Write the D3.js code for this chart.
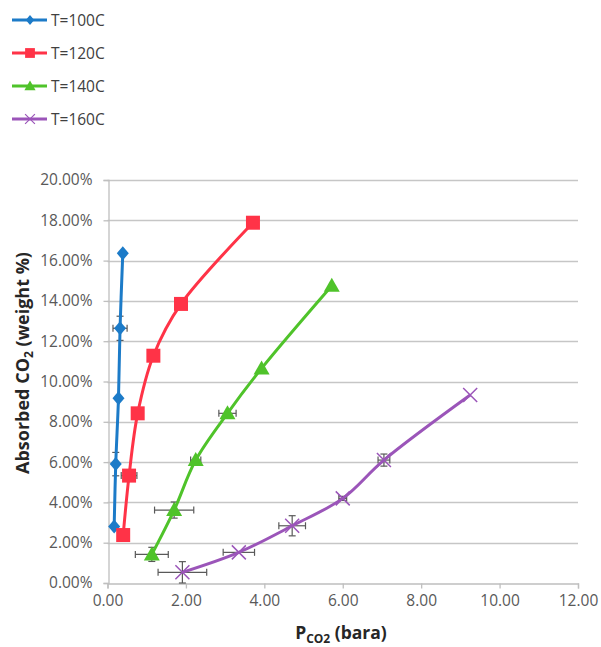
<!DOCTYPE html>
<html><head><meta charset="utf-8">
<script src="https://cdn.jsdelivr.net/npm/d3@7"></script>
<style>body{margin:0;background:#fff;} text{font-family:"Open Sans","Liberation Sans",sans-serif;}</style>
</head><body>
<svg id="c" width="601" height="647"></svg>
<script>
const seriesNames = ["T=100C","T=120C","T=140C","T=160C"];
const seriesColors = ["#1c7bc8","#ff3347","#4fc32a","#9b55b9"];
const seriesMarkers = ["diamond","square","triangle","x"];
// pressure (bara), absorbed CO2 (fraction), x error, y error
const p100 = [0.17,0.21,0.28,0.32,0.39];
const w100 = [0.028,0.059,0.0917,0.1264,0.1636];
const ex100 = [0,0.05,0,0.18,0];
const ey100 = [0,0.0058,0,0.006,0];
const p120 = [0.40,0.55,0.77,1.17,1.875,3.71];
const w120 = [0.0238,0.0533,0.0842,0.1128,0.1385,0.1788];
const ex120 = [0,0.2,0,0,0,0];
const ey120 = [0,0,0,0,0,0];
const p140 = [1.13,1.70,2.25,3.06,3.93,5.72];
const w140 = [0.0142,0.0362,0.061,0.0842,0.1065,0.1475];
const ex140 = [0.42,0.5,0.13,0.22,0,0];
const ey140 = [0.0035,0.004,0,0,0,0];
const p160 = [1.91,3.35,4.71,6.0,7.05,9.25];
const w160 = [0.0053,0.0152,0.0284,0.042,0.061,0.0933];
const ex160 = [0.62,0.4,0.34,0.1,0.15,0];
const ey160 = [0.0053,0,0.005,0.001,0.003,0];
const xTicks = [0,2,4,6,8,10,12];
const yTicks = [0,0.02,0.04,0.06,0.08,0.10,0.12,0.14,0.16,0.18,0.20];

const series = [
 {p:p100,w:w100,ex:ex100,ey:ey100},
 {p:p120,w:w120,ex:ex120,ey:ey120},
 {p:p140,w:w140,ex:ex140,ey:ey140},
 {p:p160,w:w160,ex:ex160,ey:ey160}
];

const svg = d3.select("#c");
const x = d3.scaleLinear().domain([0,12]).range([107.5,578]);
const y = d3.scaleLinear().domain([0,0.2]).range([583,180]);

// gridlines
svg.append("g").selectAll("line").data(yTicks.slice(1)).join("line")
  .attr("x1",x(0)).attr("x2",x(12)).attr("y1",d=>Math.round(y(d))+0.5).attr("y2",d=>Math.round(y(d))+0.5)
  .attr("stroke","#c6c6c6").attr("stroke-width",1.3);

// axes
const xAxis = d3.axisBottom(x).tickValues(xTicks).tickFormat(d3.format(".2f")).tickSize(5).tickPadding(6);
const gx = svg.append("g").attr("transform",`translate(0,${Math.round(y(0))+0.5})`).call(xAxis);
const yAxis = d3.axisLeft(y).tickValues(yTicks).tickFormat(d3.format(".2%")).tickSize(5).tickPadding(11);
const gy = svg.append("g").attr("transform",`translate(${Math.round(x(0))+0.5},0)`).call(yAxis);
[gx,gy].forEach(g=>{
  g.select(".domain").attr("stroke","#bfbfbf").attr("stroke-width",1.3);
  g.selectAll(".tick line").attr("stroke","#bfbfbf").attr("stroke-width",1.3);
  g.selectAll(".tick text").attr("fill","#595959").style("font-size","15.5px").style("font-family","'Open Sans',sans-serif");
});

function markerPath(type,k){
  k = k||1;
  if(type==="diamond") return `M0,${-7*k}L${6*k},0L0,${7*k}L${-6*k},0Z`;
  if(type==="square") return `M${-7*k},${-7*k}H${7*k}V${7*k}H${-7*k}Z`;
  if(type==="triangle") return `M0,${-8*k}L${8*k},${6*k}H${-8*k}Z`;
  return `M${-7*k},${-7*k}L${7*k},${7*k}M${-7*k},${7*k}L${7*k},${-7*k}`;
}

const line = d3.line().x(d=>x(d[0])).y(d=>y(d[1])).curve(d3.curveCatmullRom.alpha(0.5));

series.forEach((s,i)=>{
  const pts = s.p.map((v,j)=>[v,s.w[j],s.ex[j],s.ey[j]]);
  const g = svg.append("g");
  // error bars
  const eb = g.append("g").attr("stroke","#595959").attr("stroke-width",1.2).attr("fill","none");
  pts.forEach(d=>{
    if(d[2]>0){
      const x0=x(d[0]-d[2]), x1=x(d[0]+d[2]), yy=y(d[1]);
      eb.append("line").attr("x1",x0).attr("x2",x1).attr("y1",yy).attr("y2",yy);
      eb.append("line").attr("x1",x0).attr("x2",x0).attr("y1",yy-3.5).attr("y2",yy+3.5);
      eb.append("line").attr("x1",x1).attr("x2",x1).attr("y1",yy-3.5).attr("y2",yy+3.5);
    }
    if(d[3]>0){
      const y0=y(d[1]-d[3]), y1=y(d[1]+d[3]), xx=x(d[0]);
      eb.append("line").attr("x1",xx).attr("x2",xx).attr("y1",y0).attr("y2",y1);
      eb.append("line").attr("x1",xx-3.5).attr("x2",xx+3.5).attr("y1",y0).attr("y2",y0);
      eb.append("line").attr("x1",xx-3.5).attr("x2",xx+3.5).attr("y1",y1).attr("y2",y1);
    }
  });
  g.append("path").datum(pts).attr("d",line).attr("fill","none")
    .attr("stroke",seriesColors[i]).attr("stroke-width",3).attr("stroke-linejoin","round");
  const m = seriesMarkers[i];
  g.selectAll(".mk").data(pts).join("path")
    .attr("transform",d=>`translate(${x(d[0])},${y(d[1])})`)
    .attr("d",markerPath(m))
    .attr("fill",m==="x"?"none":seriesColors[i])
    .attr("stroke",m==="x"?seriesColors[i]:"none")
    .attr("stroke-width",m==="x"?1.5:0);
});

// legend
const lg = svg.append("g");
seriesNames.forEach((n,i)=>{
  const yy = 20 + i*33;
  lg.append("line").attr("x1",12).attr("x2",47).attr("y1",yy).attr("y2",yy)
    .attr("stroke",seriesColors[i]).attr("stroke-width",3);
  const m = seriesMarkers[i];
  lg.append("path").attr("transform",`translate(30,${yy})`).attr("d",markerPath(m,0.7))
    .attr("fill",m==="x"?"none":seriesColors[i])
    .attr("stroke",m==="x"?seriesColors[i]:"none").attr("stroke-width",m==="x"?1.2:0);
  lg.append("text").attr("x",51).attr("y",yy+5.5).text(n)
    .attr("fill","#404040").style("font-size","15.5px");
});

// axis titles
const yt = svg.append("text").attr("transform","translate(29,363) rotate(-90)")
  .attr("text-anchor","middle").attr("fill","#262626").style("font-size","18px").style("font-weight","bold");
yt.append("tspan").text("Absorbed CO");
yt.append("tspan").text("2").attr("dy",4).style("font-size","12px");
yt.append("tspan").text(" (weight %)").attr("dy",-4);

const xt = svg.append("text").attr("x",341).attr("y",639)
  .attr("text-anchor","middle").attr("fill","#262626").style("font-size","17.5px").style("font-weight","bold");
xt.append("tspan").text("P");
xt.append("tspan").text("CO2").attr("dy",4).style("font-size","12px");
xt.append("tspan").text(" (bara)").attr("dy",-4);
</script>
</body></html>
